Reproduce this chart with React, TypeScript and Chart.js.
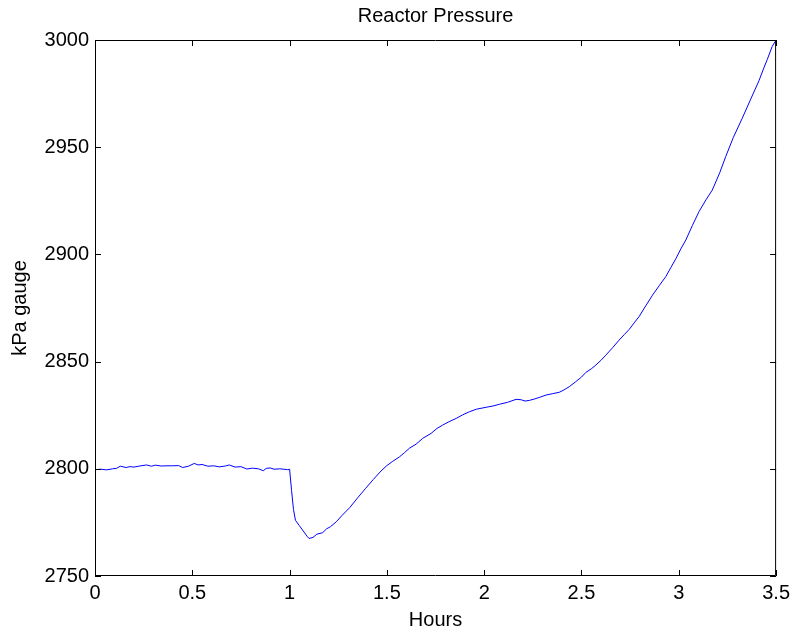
import React, { useEffect, useRef } from "react";
import { Chart, registerables } from "chart.js";

Chart.register(...registerables);

const TITLE = "Reactor Pressure";
const X_LABEL = "Hours";
const Y_LABEL = "kPa gauge";

const xTicks = [0, 0.5, 1, 1.5, 2, 2.5, 3, 3.5];
const yTicks = [2750, 2800, 2850, 2900, 2950, 3000];

const hours = [
  0.0, 0.03, 0.06, 0.09, 0.11, 0.13, 0.16, 0.18, 0.2, 0.23, 0.265, 0.29, 0.31, 0.34, 0.37, 0.4,
  0.43, 0.45, 0.48, 0.51, 0.53, 0.55, 0.58, 0.61, 0.64, 0.67, 0.69, 0.72, 0.75, 0.78, 0.81, 0.84,
  0.865, 0.88, 0.9, 0.92, 0.95, 0.99, 1.0, 1.01, 1.02, 1.03, 1.05, 1.07, 1.09, 1.1, 1.12, 1.14,
  1.17, 1.19, 1.21, 1.24, 1.27, 1.31, 1.35, 1.39, 1.43, 1.47, 1.5, 1.53, 1.565, 1.59, 1.616, 1.65,
  1.684, 1.727, 1.757, 1.787, 1.82, 1.856, 1.89, 1.924, 1.96, 2.01, 2.05, 2.078, 2.12, 2.164, 2.19,
  2.21, 2.232, 2.26, 2.29, 2.318, 2.35, 2.386, 2.41, 2.437, 2.47, 2.5, 2.523, 2.55, 2.574, 2.6,
  2.625, 2.66, 2.693, 2.72, 2.745, 2.77, 2.796, 2.83, 2.865, 2.9, 2.933, 2.96, 2.985, 3.01, 3.036,
  3.07, 3.104, 3.14, 3.172, 3.21, 3.241, 3.28, 3.326, 3.37, 3.412, 3.435, 3.455, 3.48, 3.5,
];

const pressure = [
  2799.6, 2799.8, 2799.5, 2800.0, 2800.2, 2801.2, 2800.6, 2801.0, 2800.8, 2801.3, 2801.8, 2801.2,
  2801.7, 2801.3, 2801.4, 2801.4, 2801.5, 2800.6, 2801.2, 2802.5, 2801.8, 2802.0, 2801.2, 2801.4,
  2800.9, 2801.3, 2801.8, 2800.8, 2801.0, 2799.9, 2800.3, 2800.0, 2799.1, 2800.2, 2800.4, 2799.8,
  2800.0, 2799.6, 2799.8, 2790.0, 2781.0, 2776.0, 2773.5, 2771.0, 2768.5, 2767.5, 2768.0, 2769.5,
  2770.2, 2772.0, 2773.0, 2775.3, 2778.3, 2782.0, 2786.5, 2790.8, 2795.0, 2799.0, 2801.5, 2803.5,
  2805.6, 2807.5, 2809.6, 2811.5, 2814.2, 2816.5, 2818.8, 2820.4, 2822.0, 2823.5, 2825.2, 2826.6,
  2827.8, 2828.7, 2829.4, 2830.1, 2831.0, 2832.4, 2832.2, 2831.6, 2831.9, 2832.6, 2833.5, 2834.4,
  2835.0, 2835.7, 2836.8, 2838.3, 2840.6, 2842.8, 2845.0, 2846.6, 2848.4, 2850.6, 2853.0, 2856.5,
  2860.0, 2862.6, 2865.0, 2868.0, 2871.0, 2876.0, 2881.0, 2885.5, 2889.6, 2894.0, 2898.0, 2902.5,
  2906.7, 2913.5, 2920.0, 2925.5, 2930.0, 2938.0, 2945.6, 2954.5, 2963.5, 2972.5, 2981.0, 2986.5,
  2991.0, 2997.0, 3000.0,
];

const FONT = '"Liberation Sans", Arial, Helvetica, sans-serif';

const boxPlugin = {
  id: "matlabBox",
  afterDatasetsDraw(chart: any) {
    const { ctx, chartArea, scales } = chart;
    const { left, right, top, bottom } = chartArea;
    const xs = scales.x;
    const ys = scales.y;
    const tl = 6;
    ctx.save();
    ctx.strokeStyle = "#000";
    ctx.lineWidth = 1;
    ctx.beginPath();
    ctx.rect(left + 0.5, top + 0.5, right - left - 1, bottom - top - 1);
    ctx.stroke();
    ctx.beginPath();
    for (const v of xTicks) {
      const px = Math.round(xs.getPixelForValue(v)) + 0.5;
      ctx.moveTo(px, bottom);
      ctx.lineTo(px, bottom - tl);
      ctx.moveTo(px, top);
      ctx.lineTo(px, top + tl);
    }
    for (const v of yTicks) {
      const py = Math.round(ys.getPixelForValue(v)) + 0.5;
      ctx.moveTo(left, py);
      ctx.lineTo(left + tl, py);
      ctx.moveTo(right, py);
      ctx.lineTo(right - tl, py);
    }
    ctx.stroke();
    ctx.restore();
  },
};

export default function App() {
  const ref = useRef<HTMLCanvasElement | null>(null);

  useEffect(() => {
    if (!ref.current) return;
    const points = hours.map((h, i) => ({ x: h, y: pressure[i] }));
    const chart = new Chart(ref.current, {
      type: "line",
      data: {
        datasets: [
          {
            data: points,
            borderColor: "#0000ff",
            borderWidth: 1,
            pointRadius: 0,
            tension: 0,
            fill: false,
          },
        ],
      },
      options: {
        animation: false,
        responsive: false,
        devicePixelRatio: 1,
        layout: { padding: { left: 0, right: 18, top: 0, bottom: 0 } },
        plugins: {
          legend: { display: false },
          tooltip: { enabled: false },
          title: {
            display: true,
            text: TITLE,
            fullSize: false,
            color: "#000",
            font: { family: FONT, size: 20, weight: "normal" },
            padding: { top: 4.5, bottom: 11.5 },
          },
        },
        scales: {
          x: {
            type: "linear",
            min: 0,
            max: 3.5,
            afterBuildTicks: (scale: any) => {
              scale.ticks = xTicks.map((v) => ({ value: v }));
            },
            afterFit: (scale: any) => {
              scale.height = 61;
            },
            grid: { display: false, drawTicks: false },
            border: { display: false },
            ticks: {
              color: "#000",
              padding: 5,
              maxRotation: 0,
              autoSkip: false,
              font: { family: FONT, size: 20 },
              callback: (v: any) => String(v),
            },
            title: {
              display: true,
              text: X_LABEL,
              color: "#000",
              font: { family: FONT, size: 20 },
              padding: { top: 0, bottom: 5 },
            },
          },
          y: {
            type: "linear",
            min: 2750,
            max: 3000,
            afterBuildTicks: (scale: any) => {
              scale.ticks = yTicks.map((v) => ({ value: v }));
            },
            afterFit: (scale: any) => {
              scale.width = 95;
            },
            grid: { display: false, drawTicks: false },
            border: { display: false },
            ticks: {
              color: "#000",
              padding: 6,
              autoSkip: false,
              font: { family: FONT, size: 20 },
              callback: (v: any) => String(v),
            },
            title: {
              display: true,
              text: Y_LABEL,
              color: "#000",
              font: { family: FONT, size: 20 },
              padding: { top: 8, bottom: 0 },
            },
          },
        },
      },
      plugins: [boxPlugin],
    });
    return () => chart.destroy();
  }, []);

  return (
    <div style={{ position: "absolute", left: 0, top: 0, width: 795, height: 637, background: "#fff" }}>
      <canvas ref={ref} width={795} height={637} style={{ display: "block" }} />
    </div>
  );
}
